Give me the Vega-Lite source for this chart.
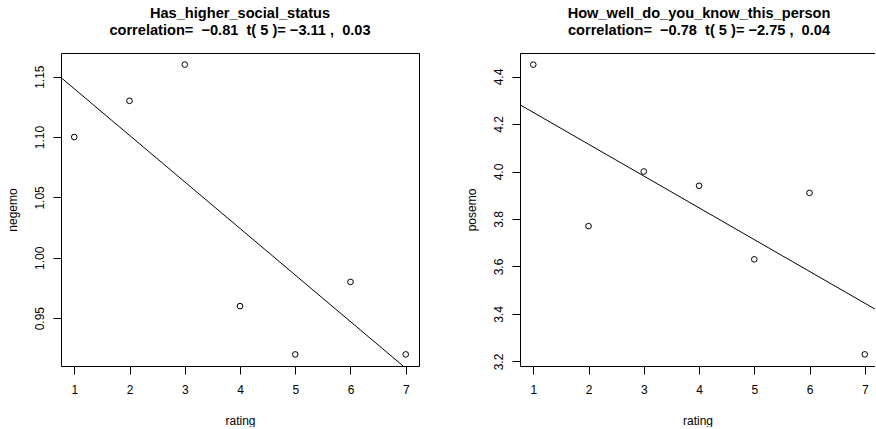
{
  "$schema": "https://vega.github.io/schema/vega-lite/v6.json",
  "background": "white",
  "padding": {"left": 5, "top": 5, "right": 0, "bottom": 0},
  "spacing": 101,
  "bounds": "flush",
  "datasets": {
    "status": [
      {"rating": 1, "negemo": 1.10},
      {"rating": 2, "negemo": 1.13},
      {"rating": 3, "negemo": 1.16},
      {"rating": 4, "negemo": 0.96},
      {"rating": 5, "negemo": 0.92},
      {"rating": 6, "negemo": 0.98},
      {"rating": 7, "negemo": 0.92}
    ],
    "statusFit": [
      {"rating": 0.76, "negemo": 1.149255},
      {"rating": 7.24, "negemo": 0.899315}
    ],
    "know": [
      {"rating": 1, "posemo": 4.45},
      {"rating": 2, "posemo": 3.77},
      {"rating": 3, "posemo": 4.00},
      {"rating": 4, "posemo": 3.94},
      {"rating": 5, "posemo": 3.63},
      {"rating": 6, "posemo": 3.91},
      {"rating": 7, "posemo": 3.23}
    ],
    "knowFit": [
      {"rating": 0.76, "posemo": 4.281071},
      {"rating": 7.185, "posemo": 3.42058}
    ]
  },
  "config": {
    "font": "Liberation Sans",
    "view": {"stroke": "black", "strokeWidth": 1},
    "title": {"font": "Liberation Sans", "fontSize": 14.6, "fontWeight": "bold", "lineHeight": 17, "color": "black", "anchor": "middle", "offset": 15},
    "axis": {
      "grid": false,
      "domain": false,
      "domainColor": "black",
      "domainWidth": 1,
      "tickColor": "black",
      "tickWidth": 1,
      "tickSize": 8,
      "labelFont": "Liberation Sans",
      "labelFontSize": 12,
      "labelColor": "black",
      "labelPadding": 10,
      "titleFont": "Liberation Sans",
      "titleFontSize": 12,
      "titleFontWeight": "normal",
      "titleColor": "black"
    },
    "axisX": {"titlePadding": 20},
    "axisY": {"labelAngle": 270, "labelAlign": "center", "labelBaseline": "alphabetic", "titlePadding": 14}
  },
  "hconcat": [
    {
      "width": 358,
      "height": 313,
      "title": {"text": ["Has_higher_social_status", "correlation=\u00a0 −0.81 \u00a0t( 5 )= −3.11 ,\u00a0 0.03"]},
      "layer": [
        {
          "data": {"name": "statusFit"},
          "mark": {"type": "line", "color": "black", "strokeWidth": 1, "clip": true},
          "encoding": {
            "x": {"field": "rating", "type": "quantitative", "scale": {"domain": [0.76, 7.24], "nice": false, "zero": false}, "axis": {"values": [1, 2, 3, 4, 5, 6, 7], "title": "rating"}},
            "y": {"field": "negemo", "type": "quantitative", "scale": {"domain": [0.9104, 1.1696], "nice": false, "zero": false}, "axis": {"values": [0.95, 1.0, 1.05, 1.1, 1.15], "format": ".2f", "title": "negemo"}}
          }
        },
        {
          "data": {"name": "status"},
          "mark": {"type": "point", "shape": "circle", "filled": false, "color": "black", "size": 32, "strokeWidth": 1, "opacity": 1},
          "encoding": {
            "x": {"field": "rating", "type": "quantitative"},
            "y": {"field": "negemo", "type": "quantitative"}
          }
        }
      ]
    },
    {
      "width": 355,
      "height": 313,
      "view": {"stroke": null},
      "title": {"text": ["How_well_do_you_know_this_person", "correlation=\u00a0 −0.78 \u00a0t( 5 )= −2.75 ,\u00a0 0.04"], "dx": 1.5},
      "resolve": {"axis": {"x": "independent"}},
      "layer": [
        {
          "data": {"name": "knowFit"},
          "mark": {"type": "line", "color": "black", "strokeWidth": 1, "clip": true},
          "encoding": {
            "x": {"field": "rating", "type": "quantitative", "scale": {"domain": [0.76, 7.185], "nice": false, "zero": false}, "axis": {"values": [1, 2, 3, 4, 5, 6, 7], "title": "rating", "domain": true}},
            "y": {"field": "posemo", "type": "quantitative", "scale": {"domain": [3.181, 4.499], "nice": false, "zero": false}, "axis": {"values": [3.2, 3.4, 3.6, 3.8, 4.0, 4.2, 4.4], "format": ".1f", "title": "posemo", "domain": true}}
          }
        },
        {
          "data": {"name": "know"},
          "mark": {"type": "point", "shape": "circle", "filled": false, "color": "black", "size": 32, "strokeWidth": 1, "opacity": 1},
          "encoding": {
            "x": {"field": "rating", "type": "quantitative", "axis": {"orient": "top", "domain": true, "labels": false, "ticks": false, "title": null}},
            "y": {"field": "posemo", "type": "quantitative"}
          }
        }
      ]
    }
  ]
}
